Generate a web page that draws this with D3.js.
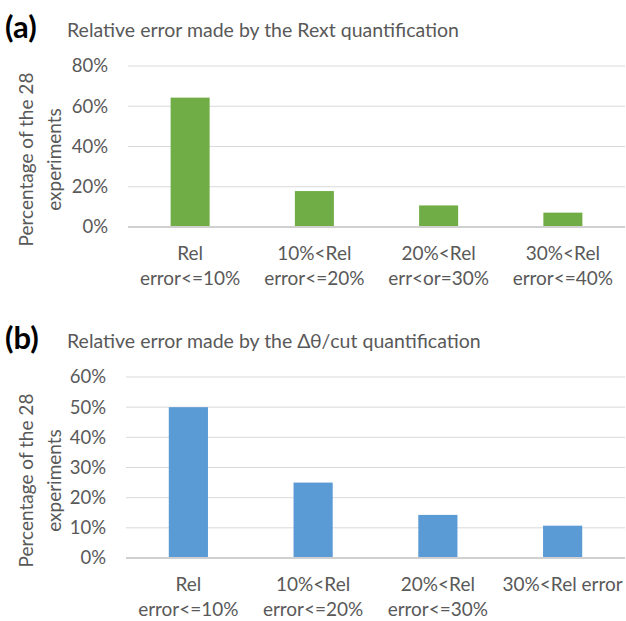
<!DOCTYPE html>
<html>
<head>
<meta charset="utf-8">
<script src="https://cdn.jsdelivr.net/npm/d3@7"></script>
<style>
  body { margin: 0; background: #fff; }
  svg { display: block; font-family: Lato, "Open Sans", sans-serif; }
</style>
</head>
<body>
<svg id="vis" width="626" height="621"></svg>
<script>
// panel (a): Rext quantification, share of 28 experiments
const catsA = [['Rel', 'error<=10%'], ['10%<Rel', 'error<=20%'], ['20%<Rel', 'err<or=30%'], ['30%<Rel', 'error<=40%']]
const valsA = [18 / 28, 5 / 28, 3 / 28, 2 / 28]
const ticksA = [0, 0.2, 0.4, 0.6, 0.8]

// panel (b): delta theta / cut quantification
const catsB = [['Rel', 'error<=10%'], ['10%<Rel', 'error<=20%'], ['20%<Rel', 'error<=30%'], ['30%<Rel error']]
const valsB = [14 / 28, 7 / 28, 4 / 28, 3 / 28]
const ticksB = [0, 0.1, 0.2, 0.3, 0.4, 0.5, 0.6]

const svg = d3.select('#vis')
const grey = '#595959'

panel({
  tag: '(a)', title: 'Relative error made by the Rext quantification',
  cats: catsA, vals: valsA, ticks: ticksA, color: '#70AD47',
  top: 66, bottom: 227, left: 128, right: 625, titleY: 37
})
panel({
  tag: '(b)', title: 'Relative error made by the \u0394\u03b8/cut quantification',
  cats: catsB, vals: valsB, ticks: ticksB, color: '#5B9BD5',
  top: 377, bottom: 558, left: 126, right: 625, titleY: 348
})

function panel(p) {
  const g = svg.append('g')
  const x = d3.scaleBand()
    .domain(d3.range(p.cats.length))
    .range([p.left, p.right])
    .paddingInner(0.686)
    .paddingOuter(0.343)
  const y = d3.scaleLinear()
    .domain([0, d3.max(p.ticks)])
    .range([p.bottom, p.top])

  g.append('text')
    .attr('x', 5).attr('y', p.titleY + 1)
    .attr('font-size', 31).attr('font-weight', 'bold')
    .attr('fill', '#000')
    .text(p.tag)
  g.append('text')
    .attr('x', 67).attr('y', p.titleY)
    .attr('font-size', 19.5).attr('fill', grey)
    .text(p.title)

  // gridlines
  g.selectAll('.grid')
    .data(p.ticks.slice(1))
    .enter()
    .append('line')
    .attr('x1', p.left).attr('x2', p.right)
    .attr('y1', d => y(d)).attr('y2', d => y(d))
    .attr('stroke', '#D9D9D9').attr('stroke-width', 1)

  const yAxis = g.append('g')
    .attr('transform', `translate(${p.left},0)`)
    .call(d3.axisLeft(y).tickValues(p.ticks).tickFormat(d3.format('.0%')).tickSize(0).tickPadding(20))
  yAxis.select('.domain').remove()
  yAxis.selectAll('text')
    .attr('font-size', 18.5).attr('fill', grey)
    .attr('font-family', 'Lato, sans-serif')

  g.selectAll('.bar')
    .data(p.vals)
    .enter()
    .append('rect')
    .attr('x', (d, i) => x(i))
    .attr('width', x.bandwidth())
    .attr('y', d => y(d))
    .attr('height', d => y(0) - y(d))
    .attr('fill', p.color)

  g.append('line')
    .attr('x1', p.left).attr('x2', p.right)
    .attr('y1', y(0)).attr('y2', y(0))
    .attr('stroke', '#D0D0D0').attr('stroke-width', 2)

  // category labels, one or two lines
  const lab = g.selectAll('.cat')
    .data(p.cats)
    .enter()
    .append('text')
    .attr('text-anchor', 'middle')
    .attr('font-size', 19).attr('fill', grey)
  lab.selectAll('tspan')
    .data((d, i) => d.map(t => ({ t, i })))
    .enter()
    .append('tspan')
    .attr('x', d => x(d.i) + x.bandwidth() / 2)
    .attr('y', (d, j) => y(0) + 33 + j * 25)
    .text(d => d.t)

  // axis title
  const mid = (p.top + p.bottom) / 2 + 13
  g.append('text')
    .attr('transform', `translate(33,${mid}) rotate(-90)`)
    .attr('text-anchor', 'middle')
    .attr('font-size', 19).attr('fill', grey)
    .text('Percentage of the 28')
  g.append('text')
    .attr('transform', `translate(61,${mid}) rotate(-90)`)
    .attr('text-anchor', 'middle')
    .attr('font-size', 19).attr('fill', grey)
    .text('experiments')
}
</script>
</body>
</html>
